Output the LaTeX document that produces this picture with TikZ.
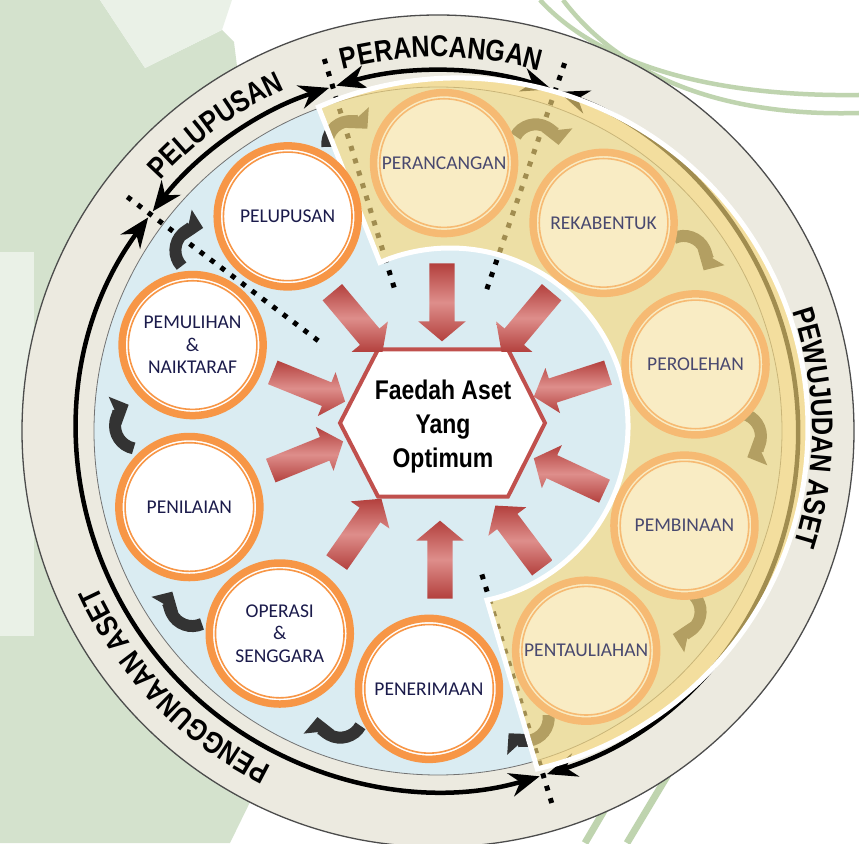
\documentclass[tikz,border=0pt]{standalone}
\usepackage{fontspec}
\setmainfont{Carlito}
\newfontfamily\bandfont{Liberation Sans}[FakeStretch=0.84]
\newfontfamily\goalfont{Liberation Sans}[FakeStretch=0.85]
\usetikzlibrary{shapes,arrows.meta,positioning,calc,decorations.text}

\definecolor{ringbeige}{HTML}{ECEAE0}
\definecolor{diskblue}{HTML}{DAECF2}
\definecolor{stageorange}{HTML}{F79646}
\definecolor{paleorange}{HTML}{F6BA73}
\definecolor{paleyellow}{HTML}{F9ECC4}
\definecolor{goalred}{HTML}{C0504D}
\definecolor{darkred}{HTML}{B3403D}
\definecolor{lightred}{HTML}{DE8E8B}
\definecolor{stagenavy}{HTML}{1B1B4B}
\definecolor{hookgrey}{HTML}{333333}
\definecolor{sectoryellow}{HTML}{F8D97C}
\definecolor{leafgreen}{HTML}{D4E2CD}
\definecolor{leaflight}{HTML}{EAF1E7}
\definecolor{linegreen}{HTML}{BFD4AF}

\begin{document}
\begin{tikzpicture}[
        x=1pt, y=1pt,
        stage/.style={circle, draw=stageorange, line width=7.5pt, fill=white, minimum size=141pt, inner sep=0pt,
            align=center, text=stagenavy, font=\fontsize{19.5}{22.5}\selectfont,
            path picture={\draw[stageorange, line width=1.6pt] (path picture bounding box.center) circle (64.3pt);}},
        plannedstage/.style={circle, draw=paleorange, line width=7.5pt, fill=paleyellow, minimum size=141pt, inner sep=0pt,
            align=center, text=stagenavy!80, font=\fontsize{19.5}{22.5}\selectfont,
            path picture={\draw[paleorange, line width=1.6pt] (path picture bounding box.center) circle (64.3pt);}},
        goalarrow/.style={single arrow, minimum height=78pt, inner xsep=0pt, inner ysep=12.5pt,
            single arrow head extend=11pt, single arrow tip angle=100,
            top color=darkred, bottom color=darkred, middle color=lightred},
        goal/.style={align=center, font=\goalfont\bfseries\fontsize{27}{34}\selectfont},
        hook/.style={line width=12pt, hookgrey, -{Triangle[length=15pt,width=30pt]}},
        stagearc/.style={line width=4.5pt, arrows={Stealth[length=30pt,width=24pt]-Stealth[length=30pt,width=24pt]}},
        marker/.style={line width=5pt, dash pattern=on 5pt off 8pt},
        bandlabel/.style={decorate, decoration={text along path, text align=center}},
        greenline/.style={linegreen, line width=4.5pt}
    ]
        \useasboundingbox (-438,-412) rectangle (421,431);
        \fill[white] (-438,-412) rectangle (421,431);

        % background leaves and lines
        \begin{scope}[shift={(-438,431)}, yscale=-1]
            \fill[leafgreen] (0,0) -- (100,0) -- (145,68) -- (222,30) -- (234,42) -- (240,90) -- (300,300)
                -- (300,700) -- (230,843) -- (0,843) -- cycle;
            \fill[leaflight] (100,0) -- (232,0) -- (222,30) -- (145,68) -- cycle;
            \fill[leaflight] (0,252) rectangle (34,636);
            \draw[greenline] (540,0) .. controls (595,60) and (700,97) .. (859,95);
            \draw[greenline] (563,0) .. controls (620,75) and (720,117) .. (859,113);
            \draw[greenline, line width=7pt] (585,843) -- (628,770);
            \draw[greenline, line width=7pt] (627,843) -- (675,763);
        \end{scope}

        % outer ring and inner disk
        \coordinate (C) at (0,0);
        \draw[fill=ringbeige, draw=black!70, line width=1.3pt] (C) circle (416);
        \draw[fill=diskblue, draw=black!55, line width=0.8pt] (C) circle (344);

        % life cycle phases
        \draw[stagearc] (107.6:360) arc[start angle=107.6, end angle=142.4, radius=360];
        \draw[stagearc] (71.6:360) arc[start angle=71.6, end angle=106.4, radius=360];
        \draw[stagearc] (-72.4:360) arc[start angle=-72.4, end angle=70.4, radius=360];
        \draw[stagearc] (143.6:360) arc[start angle=143.6, end angle=286.4, radius=360];
        \foreach \b in {143,107,71,-73}
            \draw[marker] (\b:150) -- (\b:396);

        % cycle hooks
        \foreach \a [evaluate=\a as \s using \a+80, evaluate=\a as \e using \a-65] in {35,71,107,143,179,215,251,287,323,359}
            \draw[hook] ($(\a:300)+(\s:23)$) arc[start angle=\s, end angle=\e, radius=23];

        % realisation sector
        \coordinate (I) at (12,5);
        \coordinate (O) at (20,3);
        \draw[fill=sectoryellow, fill opacity=0.65, draw=white, line width=5pt]
            ([shift={(113.2:178)}]I) -- ([shift={(113.5:350)}]O)
            arc[start angle=113.5, end angle=-76.9, radius=350]
            -- ([shift={(-78:178)}]I)
            arc[start angle=-78, end angle=113.2, radius=178] -- cycle;

        % stages
        \node[plannedstage] (perancangan) at (88.7:268) {PERANCANGAN};
        \node[plannedstage] (rekabentuk) at (51.5:266) {REKABENTUK};
        \node[plannedstage] (perolehan) at (14.5:266) {PEROLEHAN};
        \node[plannedstage] (pembinaan) at (-21:264) {PEMBINAAN};
        \node[plannedstage] (pentauliahan) at (-56:265) {PENTAULIAHAN};
        \node[stage] (penerimaan) at (-92:258) {PENERIMAAN};
        \node[stage] (operasi) at (-128:257) {OPERASI\\\&\\SENGGARA};
        \node[stage] (penilaian) at (-163:260) {PENILAIAN};
        \node[stage] (pemulihan) at (160.7:260) {PEMULIHAN\\\&\\NAIKTARAF};
        \node[stage] (pelupusan) at (125:262) {PELUPUSAN};

        % goal
        \draw[goalred, line width=4pt, fill=white] (-98,8) -- (-60,81.5) -- (70,81.5) -- (107,8)
            -- (70,-65.5) -- (-60,-65.5) -- cycle;
        \node[goal] (faedah) at (5,4) {Faedah Aset\\Yang\\Optimum};

        \node[goalarrow, rotate=-90] (arrowN) at (4,134) {};
        \node[goalarrow, rotate=-50] (arrowNW) at (-84,113) {};
        \node[goalarrow, rotate=-130] (arrowNE) at (92,113) {};
        \node[goalarrow, rotate=-22] (arrowWN) at (-134,46) {};
        \node[goalarrow, rotate=-162] (arrowEN) at (138,48) {};
        \node[goalarrow, rotate=22] (arrowWS) at (-136,-27) {};
        \node[goalarrow, rotate=155] (arrowES) at (136,-46) {};
        \node[goalarrow, rotate=55] (arrowSW) at (-82,-104) {};
        \node[goalarrow, rotate=90] (arrowS) at (2,-134) {};
        \node[goalarrow, rotate=127] (arrowSE) at (84,-110) {};

        % phase names
        \path[bandlabel, decoration={text={|\bandfont\bfseries\fontsize{30}{30}\selectfont|PERANCANGAN}}]
            (129.5:374) arc[start angle=129.5, end angle=49.5, radius=374];
        \path[bandlabel, decoration={text={|\bandfont\bfseries\fontsize{30}{30}\selectfont|PELUPUSAN}}]
            (166:374) arc[start angle=166, end angle=86, radius=374];
        \path[bandlabel, decoration={text={|\bandfont\bfseries\fontsize{30}{30}\selectfont|PEWUJUDAN ASET}}]
            (50.5:374) arc[start angle=50.5, end angle=-49.5, radius=374];
        \path[bandlabel, decoration={text={|\bandfont\bfseries\fontsize{30}{30}\selectfont|PENGGUNAAN ASET}}]
            (269:374) arc[start angle=269, end angle=179, radius=374];
    \end{tikzpicture}
\end{document}
